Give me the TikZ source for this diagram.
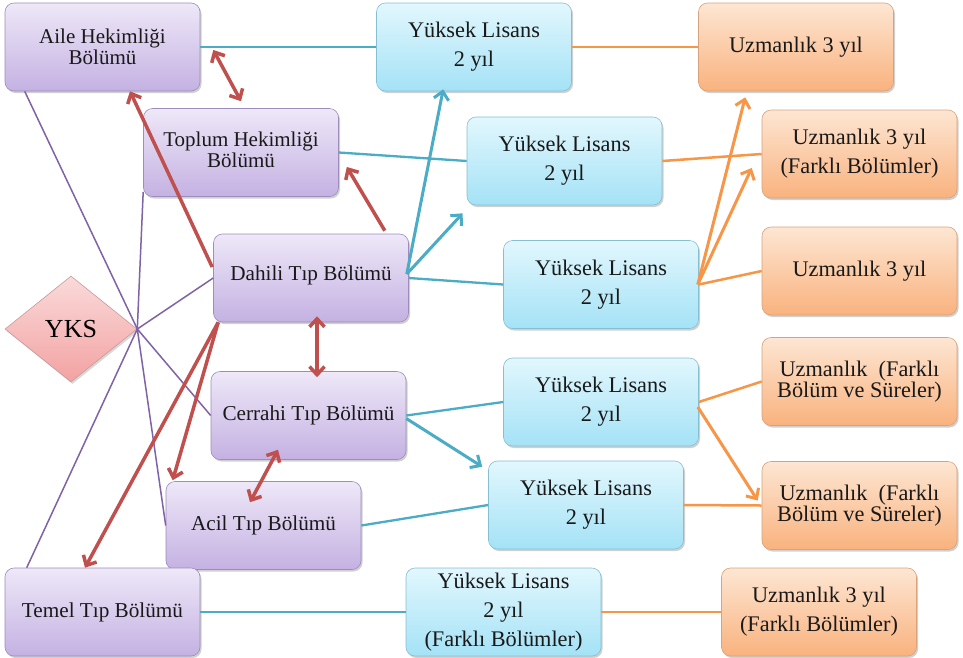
\documentclass[tikz,border=0pt]{standalone}
\usepackage{fontspec}
\setmainfont{Liberation Serif}
\usetikzlibrary{shapes.geometric,arrows.meta,calc,shadows}
\definecolor{purT}{HTML}{EEE8F8}
\definecolor{purBt}{HTML}{C4B1E2}
\definecolor{purD}{HTML}{9C8DBA}
\definecolor{bluT}{HTML}{E2F7FD}
\definecolor{bluBt}{HTML}{A4E2F6}
\definecolor{bluD}{HTML}{86BED2}
\definecolor{orT}{HTML}{FDE6D3}
\definecolor{orBt}{HTML}{F9B27E}
\definecolor{orD}{HTML}{D6A37C}
\definecolor{pkT}{HTML}{FADADA}
\definecolor{pkBt}{HTML}{F3A2A2}
\definecolor{pkD}{HTML}{C99A9A}
\definecolor{linePur}{HTML}{7F63A6}
\definecolor{lineRed}{HTML}{C0504D}
\definecolor{lineTeal}{HTML}{4BACC6}
\definecolor{lineOr}{HTML}{F79646}
\begin{document}
\begin{tikzpicture}[x=1pt,y=-1pt,
  box/.style={rectangle, rounded corners=9pt, minimum width=195pt, minimum height=88pt,
    inner sep=2pt, align=center, text=black!90, line width=0.6pt,
    font=\fontsize{22.3}{29}\selectfont,
    drop shadow={shadow xshift=1.5pt,shadow yshift=-2pt,opacity=0.3,fill=black!60}},
  tight/.style={font=\fontsize{22.3}{21}\selectfont},
  purfont/.style={font=\fontsize{21.2}{29}\selectfont},
  purtight/.style={font=\fontsize{21}{21.5}\selectfont},
  purbox/.style={box, purfont, draw=purD, top color=purT, bottom color=purBt},
  blubox/.style={box, draw=bluD, top color=bluT, bottom color=bluBt},
  orbox/.style={box, draw=orD, top color=orT, bottom color=orBt},
  purln/.style={draw=linePur, line width=1.5pt},
  redarr/.style={draw=lineRed, line width=3.5pt, -{Straight Barb[length=8pt,width=15pt]}},
  redboth/.style={draw=lineRed, line width=3.5pt, {Straight Barb[length=8pt,width=15pt]}-{Straight Barb[length=8pt,width=15pt]}},
  tealln/.style={draw=lineTeal, line width=2.3pt},
  tealarr/.style={draw=lineTeal, line width=3pt, -{Straight Barb[length=8pt,width=15pt]}},
  orln/.style={draw=lineOr, line width=2.5pt},
  orarr/.style={draw=lineOr, line width=3pt, -{Straight Barb[length=8pt,width=15pt]}}
]
\useasboundingbox[fill=white] (0,0) rectangle (963,657);

% purple boxes
\node[purbox,purtight] (aile) at (102.5,47) {Aile Hekimliği\\Bölümü};
\node[purbox,purtight] (toplum) at (241,152.5) {\raisebox{10pt}{\begin{tabular}{@{}c@{}}Toplum Hekimliği\\Bölümü\end{tabular}}};
\node[purbox] (dahili) at (311,278) {\raisebox{9pt}{Dahili Tıp Bölümü}};
\node[purbox] (cerrahi) at (308.5,415.5) {Cerrahi Tıp Bölümü};
\node[purbox] (acil) at (263.5,525.5) {Acil Tıp Bölümü};
\node[purbox] (temel) at (102.5,612) {Temel Tıp Bölümü};

% YKS
\node[diamond, minimum width=132pt, minimum height=106pt, inner sep=0pt,
  draw=pkD, line width=0.6pt, top color=pkT, bottom color=pkBt,
  font=\fontsize{26}{28}\selectfont,
  drop shadow={shadow xshift=1.5pt,shadow yshift=-2pt,opacity=0.25,fill=black!60}] (yks) at (71,329) {YKS};

% blue boxes
\node[blubox] (yl1) at (474,47) {Yüksek Lisans\\2 yıl};
\node[blubox] (yl2) at (564.5,161) {Yüksek Lisans\\2 yıl};
\node[blubox] (yl3) at (601,284.5) {Yüksek Lisans\\2 yıl};
\node[blubox] (yl4) at (601,402) {Yüksek Lisans\\2 yıl};
\node[blubox] (yl5) at (586,505) {Yüksek Lisans\\2 yıl};
\node[blubox] (yl6) at (503.5,612) {Yüksek Lisans\\2 yıl\\(Farklı Bölümler)};

% orange boxes
\node[orbox] (u1) at (796,47) {Uzmanlık 3 yıl};
\node[orbox] (u2) at (859.5,154) {Uzmanlık 3 yıl\\(Farklı Bölümler)};
\node[orbox] (u3) at (859.5,271) {Uzmanlık 3 yıl};
\node[orbox,tight] (u4) at (859.5,381.5) {Uzmanlık\ \ (Farklı\\Bölüm ve Süreler)};
\node[orbox,tight] (u5) at (859.5,505.5) {Uzmanlık\ \ (Farklı\\Bölüm ve Süreler)};
\node[orbox] (u6) at (819,612) {Uzmanlık 3 yıl\\(Farklı Bölümler)};

% purple lines from YKS
\draw[purln] (yks.east) -- ($(aile.south west)+(20,0)$);
\draw[purln] (yks.east) -- ($(toplum.south west)+(0,-5)$);
\draw[purln] (yks.east) -- (dahili.west);
\draw[purln] (yks.east) -- (cerrahi.west);
\draw[purln] (yks.east) -- (acil.west);
\draw[purln] (yks.east) -- ($(temel.north west)+(22,0)$);

% red arrows
\draw[redboth] ($(aile.east)+(13,3)$) -- ($(toplum.north)+(0,-7)$);
\draw[redarr] ($(dahili.west)+(-1,-11)$) -- ($(aile.south)+(27.5,0)$);
\draw[redarr] ($(dahili.north east)+(-24,-3)$) -- ($(toplum.east)+(8,14.5)$);
\draw[redboth] ($(dahili.south)+(6,-6)$) -- ($(cerrahi.north)+(8.5,6)$);
\draw[redarr] ($(dahili.south west)+(5,0)$) -- ($(acil.north west)+(7,-1)$);
\draw[redarr] ($(dahili.south west)+(5,0)$) -- ($(temel.north)+(-17.5,0)$);
\draw[redboth] ($(cerrahi.south)+(-30.5,-10)$) -- ($(acil.north)+(-13.5,21)$);

% teal lines
\draw[tealln] (aile.east) -- (yl1.west);
\draw[tealln] (toplum.east) -- (yl2.west);
\draw[tealarr] ($(dahili.east)+(-2,-4)$) -- ($(yl1.south west)+(67,-2)$);
\draw[tealarr] ($(dahili.east)+(-2,-4)$) -- ($(yl2.south west)+(-4,8)$);
\draw[tealln] (dahili.east) -- (yl3.west);
\draw[tealln] (cerrahi.east) -- (yl4.west);
\draw[tealarr] ($(cerrahi.east)+(0,3)$) -- ($(yl5.north west)+(-6,6)$);
\draw[tealln] (acil.east) -- (yl5.west);
\draw[tealln] (temel.east) -- (yl6.west);

% orange lines
\draw[orln] (yl1.east) -- (u1.west);
\draw[orln] (yl2.east) -- (u2.west);
\draw[orarr] ($(yl3.east)+(-1,0)$) -- ($(u1.south west)+(47,6)$);
\draw[orarr] ($(yl3.east)+(-1,0)$) -- ($(u2.west)+(-10,14)$);
\draw[orln] (yl3.east) -- (u3.west);
\draw[orln] (yl4.east) -- (u4.west);
\draw[orarr] ($(yl4.east)+(-1,5)$) -- ($(u5.west)+(-4,-5)$);
\draw[orln] (yl5.east) -- (u5.west);
\draw[orln] (yl6.east) -- (u6.west);
\end{tikzpicture}
\end{document}
